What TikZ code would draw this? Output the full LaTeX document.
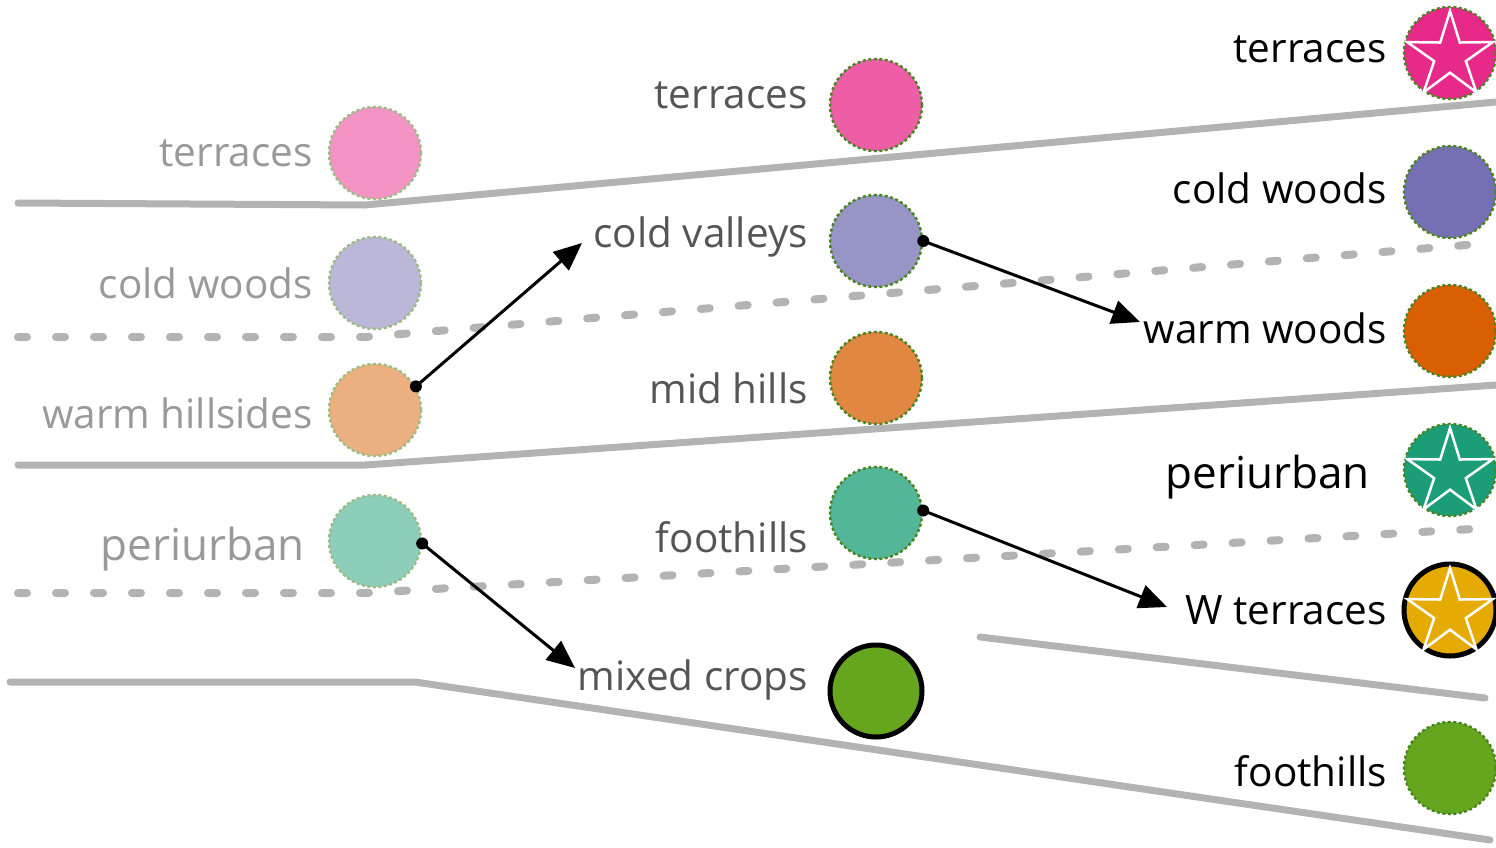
\documentclass[tikz,border=0pt]{standalone}
\usepackage{fontspec}
\setmainfont{Open Sans}
\usetikzlibrary{shapes.geometric,arrows.meta}
\definecolor{dpink}{HTML}{E7298A}
\definecolor{dpurp}{HTML}{7570B3}
\definecolor{dorng}{HTML}{D95F02}
\definecolor{dteal}{HTML}{1B9E77}
\definecolor{dgrn}{HTML}{66A61E}
\definecolor{dyel}{HTML}{E6AB02}
\definecolor{bord}{HTML}{4A8522}
\definecolor{band}{HTML}{B3B3B3}
\definecolor{txtL}{HTML}{999999}
\definecolor{txtM}{HTML}{555555}
\tikzset{
  circ/.style={circle, minimum size=92pt, inner sep=0pt, draw=bord, line width=2.5pt, dash pattern=on 3pt off 2.5pt},
  circL/.style={circ, draw=bord!55!white},
  circK/.style={circle, minimum size=92pt, inner sep=0pt, draw=black, line width=5pt},
  lbl/.style={anchor=base east, inner sep=0pt, font=\fontsize{40.5}{48}\selectfont},
  lblp/.style={anchor=base east, inner sep=0pt, font=\fontsize{44}{52}\selectfont},
  starry/.style={star, star points=5, star point ratio=2.7, minimum size=90pt, inner sep=0pt, draw=white, line width=2.5pt},
  solidband/.style={draw=band, line width=7pt, line cap=round, line join=round},
  dashband/.style={draw=band, line width=8pt, line cap=round, dash pattern=on 9pt off 29pt},
  arr/.style={draw=black, line width=3pt, -{Triangle[length=28pt,width=24pt]}},
  dotm/.style={fill=black}
}
\begin{document}
\begin{tikzpicture}[x=1pt,y=-1pt]
\useasboundingbox (0,0) rectangle (1496,847);
% bands
\draw[solidband] (18,203) -- (365,205) -- (1496,102);
\draw[dashband] (18,337) -- (365,337) -- (1490,243);
\draw[solidband] (18,465) -- (365,465) -- (1496,385);
\draw[dashband] (18,593) -- (365,593) -- (1490,528);
\draw[solidband] (10,682) -- (415,682) -- (1490,840);
\draw[solidband] (980,637) -- (1485,698);
% left column
\node[circL, fill=dpink!50!white] (l1) at (375,153) {};
\node[circL, fill=dpurp!50!white] (l2) at (375,283) {};
\node[circL, fill=dorng!50!white] (l3) at (375,410) {};
\node[circL, fill=dteal!50!white] (l4) at (375,541) {};
\node[lbl, text=txtL] (tl1) at (313,166) {terraces};
\node[lbl, text=txtL] (tl2) at (313,298) {cold woods};
\node[lbl, text=txtL] (tl3) at (313,428) {warm hillsides};
\node[lblp, text=txtL] (tl4) at (305,560) {periurban};
% middle column
\node[circ, fill=dpink!75!white] (m1) at (876,105) {};
\node[circ, fill=dpurp!75!white] (m2) at (876,241) {};
\node[circ, fill=dorng!75!white] (m3) at (876,378) {};
\node[circ, fill=dteal!75!white] (m4) at (876,513) {};
\node[circK, fill=dgrn] (m5) at (876,691) {};
\node[lbl, text=txtM] (tm1) at (808,108) {terraces};
\node[lbl, text=txtM] (tm2) at (808,247) {cold valleys};
\node[lbl, text=txtM] (tm3) at (808,403) {mid hills};
\node[lbl, text=txtM] (tm4) at (808,552) {foothills};
\node[lbl, text=txtM] (tm5) at (808,690) {mixed crops};
% right column
\node[circ, fill=dpink] (r1) at (1450,53) {};
\node[circ, fill=dpurp] (r2) at (1450,192) {};
\node[circ, fill=dorng] (r3) at (1450,331) {};
\node[circ, fill=dteal] (r4) at (1450,470) {};
\node[circK, fill=dyel] (r5) at (1450,610) {};
\node[circ, fill=dgrn] (r6) at (1450,768) {};
\node[starry] (s1) at (1450,56) {};
\node[starry] (s4) at (1450,473) {};
\node[starry] (s5) at (1450,613) {};
\node[lbl] (tr1) at (1387,62) {terraces};
\node[lbl] (tr2) at (1387,203) {cold woods};
\node[lbl] (tr3) at (1387,343) {warm woods};
\node[lblp] (tr4) at (1370,488) {periurban};
\node[lbl] (tr5) at (1387,624) {W terraces};
\node[lbl] (tr6) at (1387,786) {foothills};
% arrows
\coordinate (e1) at (582,243);
\coordinate (e2) at (1140,322);
\coordinate (e3) at (1167,607);
\coordinate (e4) at (575,668);
\draw[arr] (l3.30) -- (e1);
\draw[arr] (m2.0) -- (e2);
\draw[arr] (m4.3) -- (e3);
\draw[arr] (l4.-3) -- (e4);
\fill[dotm] (l3.30) circle (6);
\fill[dotm] (m2.0) circle (6);
\fill[dotm] (m4.3) circle (6);
\fill[dotm] (l4.-3) circle (6);
\end{tikzpicture}
\end{document}
